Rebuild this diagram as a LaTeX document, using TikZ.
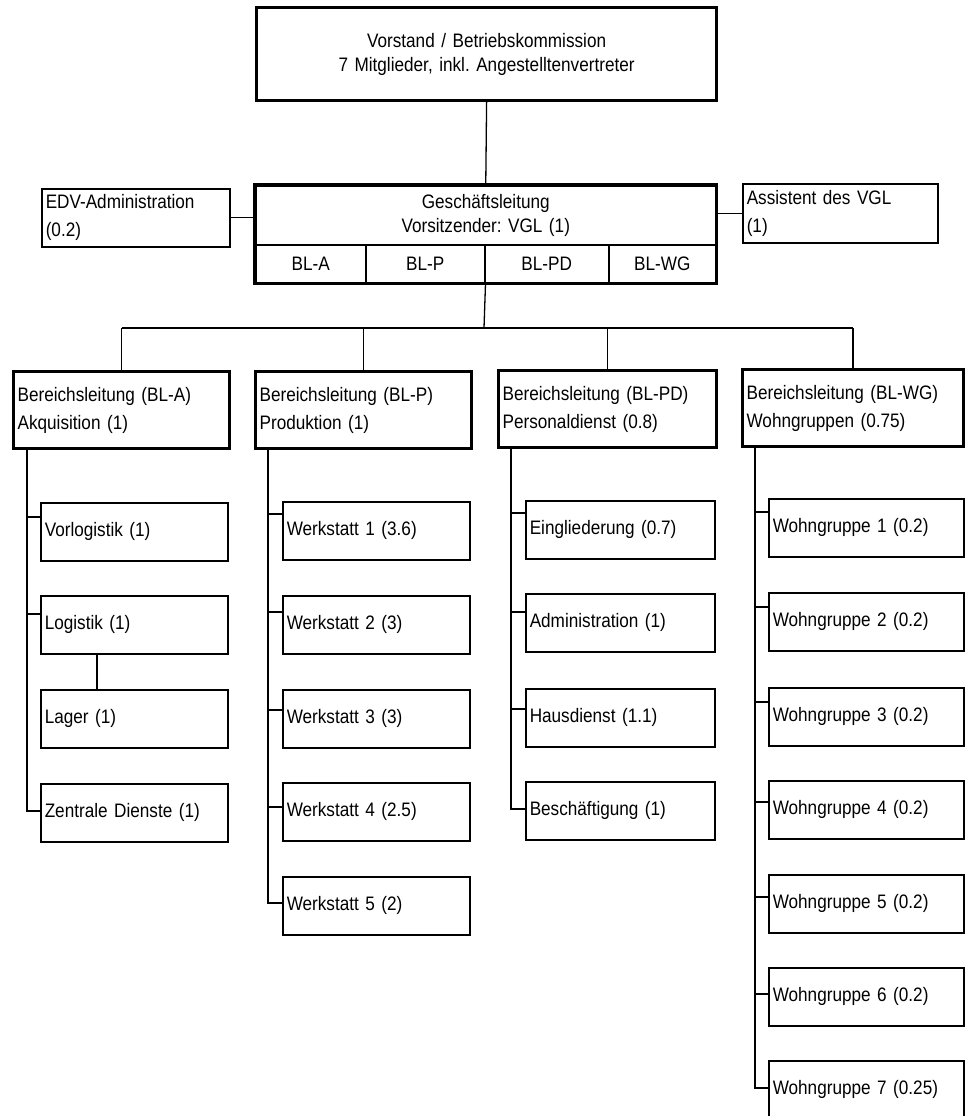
\documentclass[tikz,border=0pt]{standalone}
\usepackage{fontspec}
\setmainfont{Liberation Sans}[FakeStretch=0.88]
\frenchspacing
\begin{document}
\begin{tikzpicture}[x=1pt,y=-1pt,
  base/.style={draw, anchor=north west, inner xsep=4pt, inner ysep=0pt, font=\fontsize{19.5}{28}\selectfont},
  thinbox/.style={base, line width=1.5pt, align=left, minimum height=58pt},
  thickbox/.style={base, line width=3.2pt, align=left, minimum height=77pt},
  cbox/.style={base, line width=1.5pt, align=center},
  link/.style={line width=1.3pt},
]
\useasboundingbox (0,0) rectangle (967,1116);

% top
\node[base, line width=3.2pt, align=center, text width=452pt, minimum height=93pt,
      font=\fontsize{19.5}{24}\selectfont] (vor) at (255,6)
  {Vorstand / Betriebskommission\\7 Mitglieder, inkl. Angestelltenvertreter};

% Geschaeftsleitung
\node[cbox, text width=452pt, minimum height=59pt, font=\fontsize{19.5}{24}\selectfont] (gl) at (255,185)
  {Geschäftsleitung\\Vorsitzender: VGL (1)};
\node[cbox, minimum width=110pt, minimum height=38pt] (gla) at (255,244) {BL-A};
\node[cbox, minimum width=119pt, minimum height=38pt] (glp) at (365,244) {BL-P};
\node[cbox, minimum width=124pt, minimum height=38pt] (glpd) at (484,244) {BL-PD};
\node[cbox, minimum width=107pt, minimum height=38pt] (glwg) at (608,244) {BL-WG};
\draw[line width=3.2pt] (gl.north west) rectangle (glwg.south east);

\node[thinbox, text width=180pt] (edv) at (41,188) {EDV-Administration\\(0.2)};
\node[thinbox, text width=187pt, minimum height=59pt] (asst) at (742,183) {Assistent des VGL\\(1)};

\draw[link] (edv.east) -- (edv.east -| gl.west);
\draw[link] (asst.west) -- (asst.west -| gl.east);
\draw[link] (vor.south) -- (gl.north);

% Bereichsleitungen
\node[thickbox, text width=208pt] (bla) at (12,370) {Bereichsleitung (BL-A)\\Akquisition (1)};
\node[thickbox, text width=208pt] (blp) at (254,370) {Bereichsleitung (BL-P)\\Produktion (1)};
\node[thickbox, text width=210pt] (blpd) at (497,369) {Bereichsleitung (BL-PD)\\Personaldienst (0.8)};
\node[thickbox, text width=213pt] (blwg) at (741,368) {Bereichsleitung (BL-WG)\\Wohngruppen (0.75)};

\coordinate (bus) at (484,328);
\draw[link] (glp.south east) -- (bus);
\draw[link] (bla.north |- bus) -- (blwg.north |- bus);
\foreach \n in {bla,blp,blpd,blwg} \draw[link] (\n.north |- bus) -- (\n.north);

% column A
\node[thinbox, text width=179pt] (vorl) at (40,502) {Vorlogistik (1)};
\node[thinbox, text width=179pt] (logi) at (40,595) {Logistik (1)};
\node[thinbox, text width=179pt] (lag) at (40,689) {Lager (1)};
\node[thinbox, text width=179pt] (zent) at (40,783) {Zentrale Dienste (1)};
\draw[link] ([xshift=15pt]bla.south west) |- ([yshift=-15pt]vorl.north west);
\draw[link] ([xshift=15pt]bla.south west) |- ([yshift=-19pt]logi.north west);
\draw[link] ([xshift=15pt]bla.south west) |- ([yshift=-28pt]zent.north west);
\draw[link] ([xshift=57pt]logi.south west) -- ([xshift=57pt]lag.north west);

% column P
\node[thinbox, text width=179pt] (w1) at (282,501) {Werkstatt 1 (3.6)};
\node[thinbox, text width=179pt] (w2) at (282,595) {Werkstatt 2 (3)};
\node[thinbox, text width=179pt] (w3) at (282,689) {Werkstatt 3 (3)};
\node[thinbox, text width=179pt] (w4) at (282,782) {Werkstatt 4 (2.5)};
\node[thinbox, text width=179pt] (w5) at (282,876) {Werkstatt 5 (2)};
\draw[link] ([xshift=14pt]blp.south west) |- ([yshift=-13pt]w1.north west);
\draw[link] ([xshift=14pt]blp.south west) |- ([yshift=-17pt]w2.north west);
\draw[link] ([xshift=14pt]blp.south west) |- ([yshift=-21pt]w3.north west);
\draw[link] ([xshift=14pt]blp.south west) |- ([yshift=-25pt]w4.north west);
\draw[link] ([xshift=14pt]blp.south west) |- ([yshift=-27pt]w5.north west);

% column PD
\node[thinbox, text width=181pt] (pd1) at (525,500) {Eingliederung (0.7)};
\node[thinbox, text width=181pt] (pd2) at (525,593) {Administration (1)};
\node[thinbox, text width=181pt] (pd3) at (525,688) {Hausdienst (1.1)};
\node[thinbox, text width=181pt] (pd4) at (525,781) {Beschäftigung (1)};
\draw[link] ([xshift=14pt]blpd.south west) |- ([yshift=-13pt]pd1.north west);
\draw[link] ([xshift=14pt]blpd.south west) |- ([yshift=-19pt]pd2.north west);
\draw[link] ([xshift=14pt]blpd.south west) |- ([yshift=-21pt]pd3.north west);
\draw[link] ([xshift=14pt]blpd.south west) |- ([yshift=-28pt]pd4.north west);

% column WG
\node[thinbox, text width=187pt] (g1) at (768,498) {Wohngruppe 1 (0.2)};
\node[thinbox, text width=187pt] (g2) at (768,592) {Wohngruppe 2 (0.2)};
\node[thinbox, text width=187pt] (g3) at (768,687) {Wohngruppe 3 (0.2)};
\node[thinbox, text width=187pt] (g4) at (768,780) {Wohngruppe 4 (0.2)};
\node[thinbox, text width=187pt] (g5) at (768,874) {Wohngruppe 5 (0.2)};
\node[thinbox, text width=187pt] (g6) at (768,967) {Wohngruppe 6 (0.2)};
\node[thinbox, text width=187pt] (g7) at (768,1060) {Wohngruppe 7 (0.25)};
\draw[link] ([xshift=14pt]blwg.south west) |- ([yshift=-14pt]g1.north west);
\draw[link] ([xshift=14pt]blwg.south west) |- ([yshift=-15pt]g2.north west);
\draw[link] ([xshift=14pt]blwg.south west) |- ([yshift=-15pt]g3.north west);
\draw[link] ([xshift=14pt]blwg.south west) |- ([yshift=-22pt]g4.north west);
\draw[link] ([xshift=14pt]blwg.south west) |- ([yshift=-23pt]g5.north west);
\draw[link] ([xshift=14pt]blwg.south west) |- ([yshift=-27pt]g6.north west);
\draw[link] ([xshift=14pt]blwg.south west) |- ([yshift=-28pt]g7.north west);
\end{tikzpicture}
\end{document}
